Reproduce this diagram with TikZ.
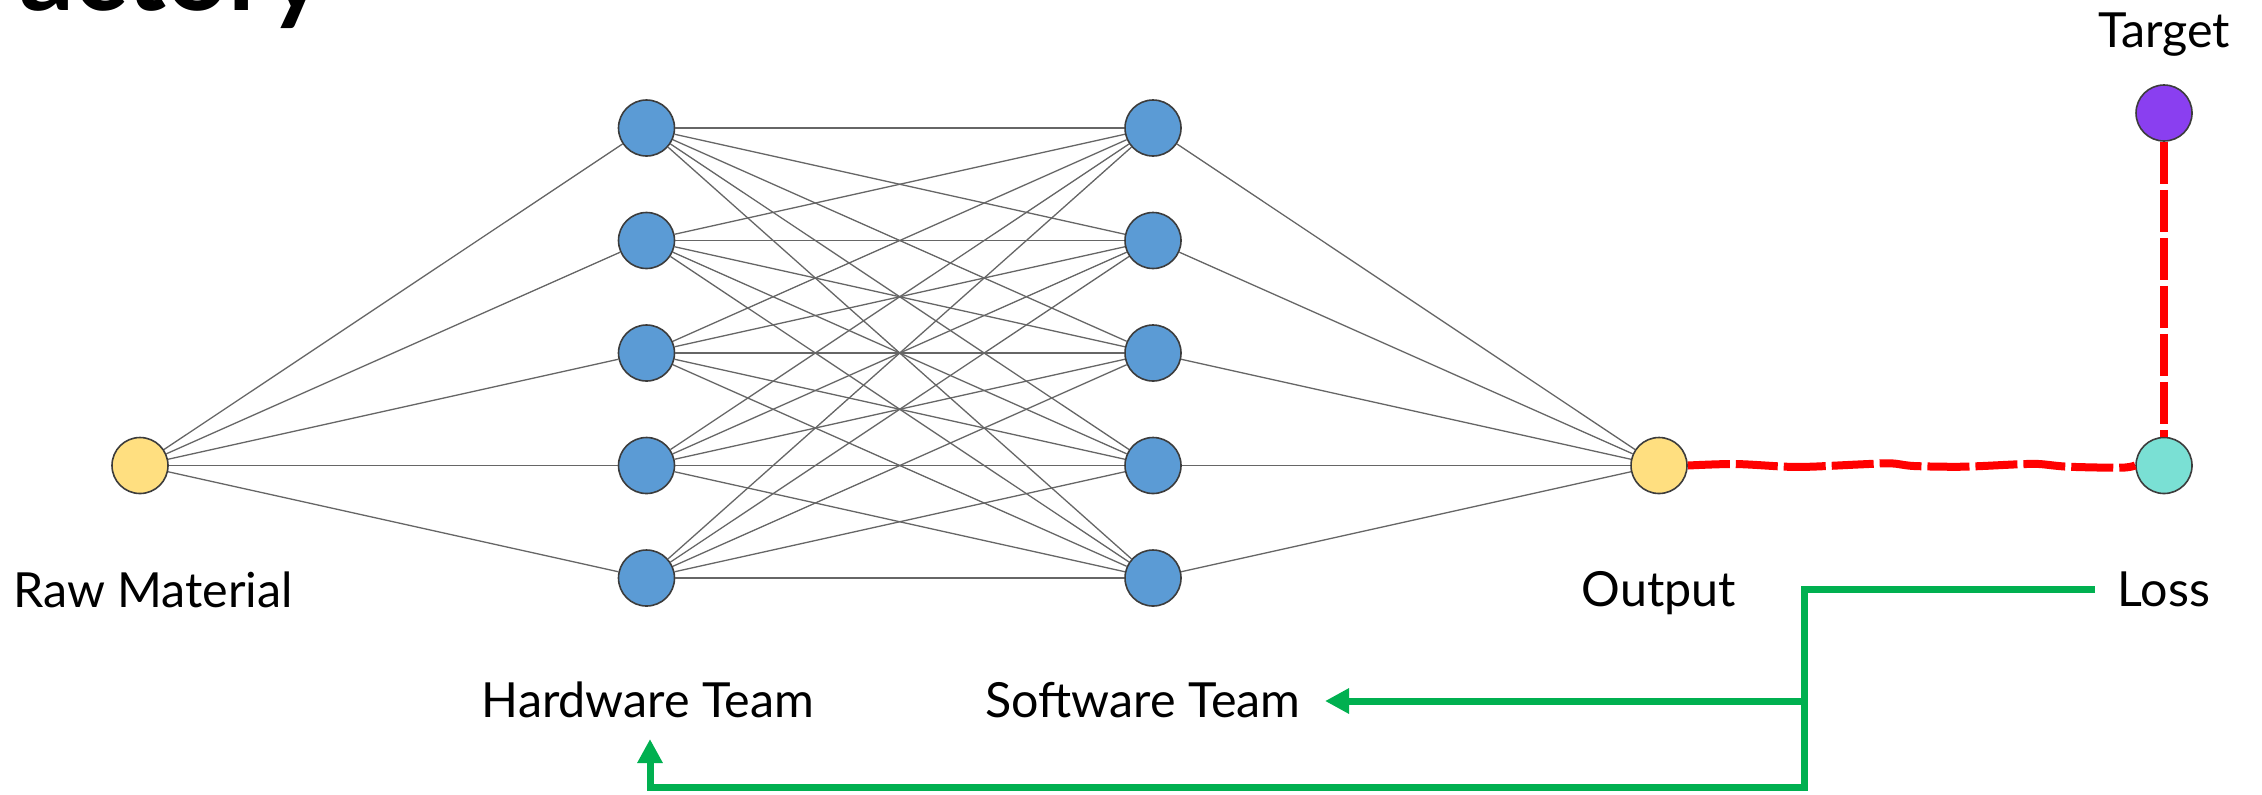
\documentclass[tikz,border=0pt]{standalone}
\usepackage{fontspec}
\setmainfont{Lato}
\usetikzlibrary{arrows.meta}
\definecolor{nodeblue}{HTML}{5B9BD5}
\definecolor{nodeyellow}{HTML}{FFDF80}
\definecolor{nodeteal}{HTML}{7AE0D4}
\definecolor{nodepurple}{HTML}{8A3FF0}
\definecolor{edgegray}{HTML}{666666}
\definecolor{outl}{HTML}{3C3C3C}
\definecolor{lossred}{HTML}{FF0000}
\definecolor{gradgreen}{HTML}{00B050}
\begin{document}
\begin{tikzpicture}[x=0.5pt,y=-0.5pt,
 neuron/.style={circle,draw=outl,line width=0.8pt,minimum size=28pt,inner sep=0pt},
 conn/.style={draw=edgegray,line width=0.65pt},
 lbl/.style={font=\fontsize{24.2pt}{29pt}\selectfont,inner sep=0pt,anchor=base},
 reddash/.style={draw=lossred,line width=4pt,dash pattern=on 21pt off 3pt},
 gline/.style={draw=gradgreen,line width=3.5pt},
 garrow/.style={gline,-{Triangle[length=12pt,width=12pt]}}
]
\useasboundingbox (0,0) rectangle (2262,794);
\fill[white] (0,0) rectangle (2262,794);

\node[anchor=base east,font=\fontsize{54pt}{60pt}\selectfont\bfseries,inner sep=0pt] (title) at (326,10) {Factory};

\foreach \i/\y in {1/128,2/240.5,3/353,4/465.5,5/578}{
  \node[neuron,fill=nodeblue] (h\i) at (646.5,\y) {};
  \node[neuron,fill=nodeblue] (s\i) at (1153,\y) {};
}
\node[neuron,fill=nodeyellow] (in) at (140,465.5) {};
\node[neuron,fill=nodeyellow] (out) at (1659,465.5) {};
\node[neuron,fill=nodeteal] (loss) at (2164,465.5) {};
\node[neuron,fill=nodepurple] (target) at (2164,113) {};

\foreach \i in {1,...,5}{
  \draw[conn] (in) -- (h\i);
  \draw[conn] (s\i) -- (out);
  \foreach \j in {1,...,5}{\draw[conn] (h\i) -- (s\j);}
}

\draw[reddash] (target) -- (loss);
\draw[reddash] plot[smooth] coordinates {(out.east) (1735,464) (1786,466.7) (1811,466.7) (1862,464.3) (1891,463.3) (1914,466) (1963,466.7) (2018,464.3) (2039,464) (2068,466.7) (2121,467.7) (loss.west)};

\node[lbl] (rawl) at (153,607) {Raw Material};
\node[lbl] (outl) at (1659,606) {Output};
\node[lbl] (lossl) at (2164,606) {Loss};
\node[lbl] (targetl) at (2164,47) {Target};
\node[lbl] (hwl) at (648,717) {Hardware Team};
\node[lbl] (swl) at (1143,717) {Software Team};

\coordinate (gstart) at (2095,589);
\coordinate (gcorner) at (1804,589);
\coordinate (gbranch) at (1804,701);
\coordinate (gbottom) at (1804,787);
\coordinate (gleft) at (650,787);
\coordinate (hwtip) at (650,739);
\coordinate (swtip) at (1325,701);
\draw[garrow] (gstart) -- (gcorner) -- (gbottom) -- (gleft) -- (hwtip);
\draw[garrow] (gbranch) -- (swtip);
\end{tikzpicture}
\end{document}
